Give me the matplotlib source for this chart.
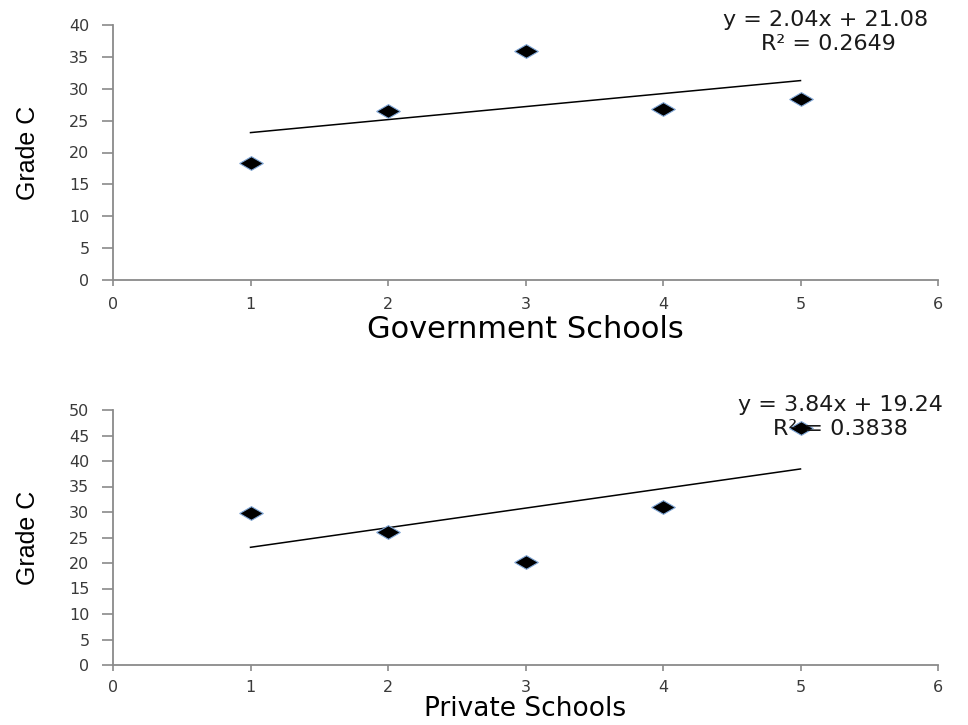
import matplotlib
matplotlib.use("Agg")
import matplotlib.pyplot as plt
import numpy as np

# ---- data ----
gov_x = [1, 2, 3, 4, 5]
gov_y = [18.3, 26.5, 36.0, 26.8, 28.4]
gov_slope, gov_intercept, gov_r2 = 2.04, 21.08, 0.2649

priv_x = [1, 2, 3, 4, 5]
priv_y = [29.8, 26.1, 20.2, 31.0, 46.5]
priv_slope, priv_intercept, priv_r2 = 3.84, 19.24, 0.3838

x_ticks = [0, 1, 2, 3, 4, 5, 6]
gov_y_ticks = [0, 5, 10, 15, 20, 25, 30, 35, 40]
priv_y_ticks = [0, 5, 10, 15, 20, 25, 30, 35, 40, 45, 50]

W, H = 968, 725
fig = plt.figure(figsize=(W / 100, H / 100), dpi=100)

SPINE = "#8a8a8a"
TICKLBL = "#3a3a3a"
diamond = [(-1, 0), (0, 0.58), (1, 0), (0, -0.58), (-1, 0)]

def px_axes(left, top, right, bottom):
    return fig.add_axes([left / W, 1 - bottom / H, (right - left) / W, (bottom - top) / H])

def setup(ax, xs, ys, slope, intercept, yticks, xlabel, xlabel_y, xlabel_size, xpad):
    ax.plot(xs, ys, linestyle="none", marker=diamond, markersize=17,
            markerfacecolor="black", markeredgecolor="#7fa6d6",
            markeredgewidth=0.8, zorder=5, clip_on=False)
    fx = np.array([min(xs), max(xs)], dtype=float)
    ax.plot(fx, slope * fx + intercept, color="black", linewidth=1.1, zorder=3)
    ax.set_xlim(0, 6)
    ax.set_ylim(yticks[0], yticks[-1])
    ax.set_xticks(x_ticks)
    ax.set_yticks(yticks)
    for s in ("top", "right"):
        ax.spines[s].set_visible(False)
    for s in ("left", "bottom"):
        ax.spines[s].set_color(SPINE)
        ax.spines[s].set_linewidth(1.3)
    for lbl in ax.get_xticklabels() + ax.get_yticklabels():
        lbl.set_family("DejaVu Sans")
    ax.tick_params(axis="y", direction="out", length=8, width=1.2, color=SPINE,
                   labelsize=11.5, labelcolor=TICKLBL, pad=9)
    ax.tick_params(axis="x", direction="out", length=4, width=1.2, color=SPINE,
                   labelsize=11.5, labelcolor=TICKLBL, pad=xpad)
    ax.set_ylabel("Grade C", fontsize=18,
                  family=["Liberation Sans Narrow", "Liberation Sans", "DejaVu Sans"],
                  rotation=90, va="center", ha="center")
    ax.yaxis.set_label_coords(-0.103, 0.5)
    ax.set_xlabel(xlabel, fontsize=xlabel_size, family="DejaVu Sans", va="center")
    ax.xaxis.set_label_coords(0.5, xlabel_y)

ax1 = px_axes(113, 25, 938, 280)
setup(ax1, gov_x, gov_y, gov_slope, gov_intercept, gov_y_ticks,
      "Government Schools", -0.196, 22, 8)

ax2 = px_axes(113, 410, 938, 665)
setup(ax2, priv_x, priv_y, priv_slope, priv_intercept, priv_y_ticks,
      "Private Schools", -0.1745, 19, 7)

def ftext(x, y, s, ha="center"):
    fig.text(x / W, 1 - y / H, s, ha=ha, va="center", fontsize=16,
             family="DejaVu Sans", color="#1a1a1a", zorder=1)

ftext(826, 20, f"y = {gov_slope:.2f}x + {gov_intercept:.2f}")
ftext(828, 44, f"R² = {gov_r2:.4f}")
ftext(840, 405, f"y = {priv_slope:.2f}x + {priv_intercept:.2f}")
ftext(773, 429, f"R² = {priv_r2:.4f}", ha="left")

fig.savefig("out.png", dpi=100)
